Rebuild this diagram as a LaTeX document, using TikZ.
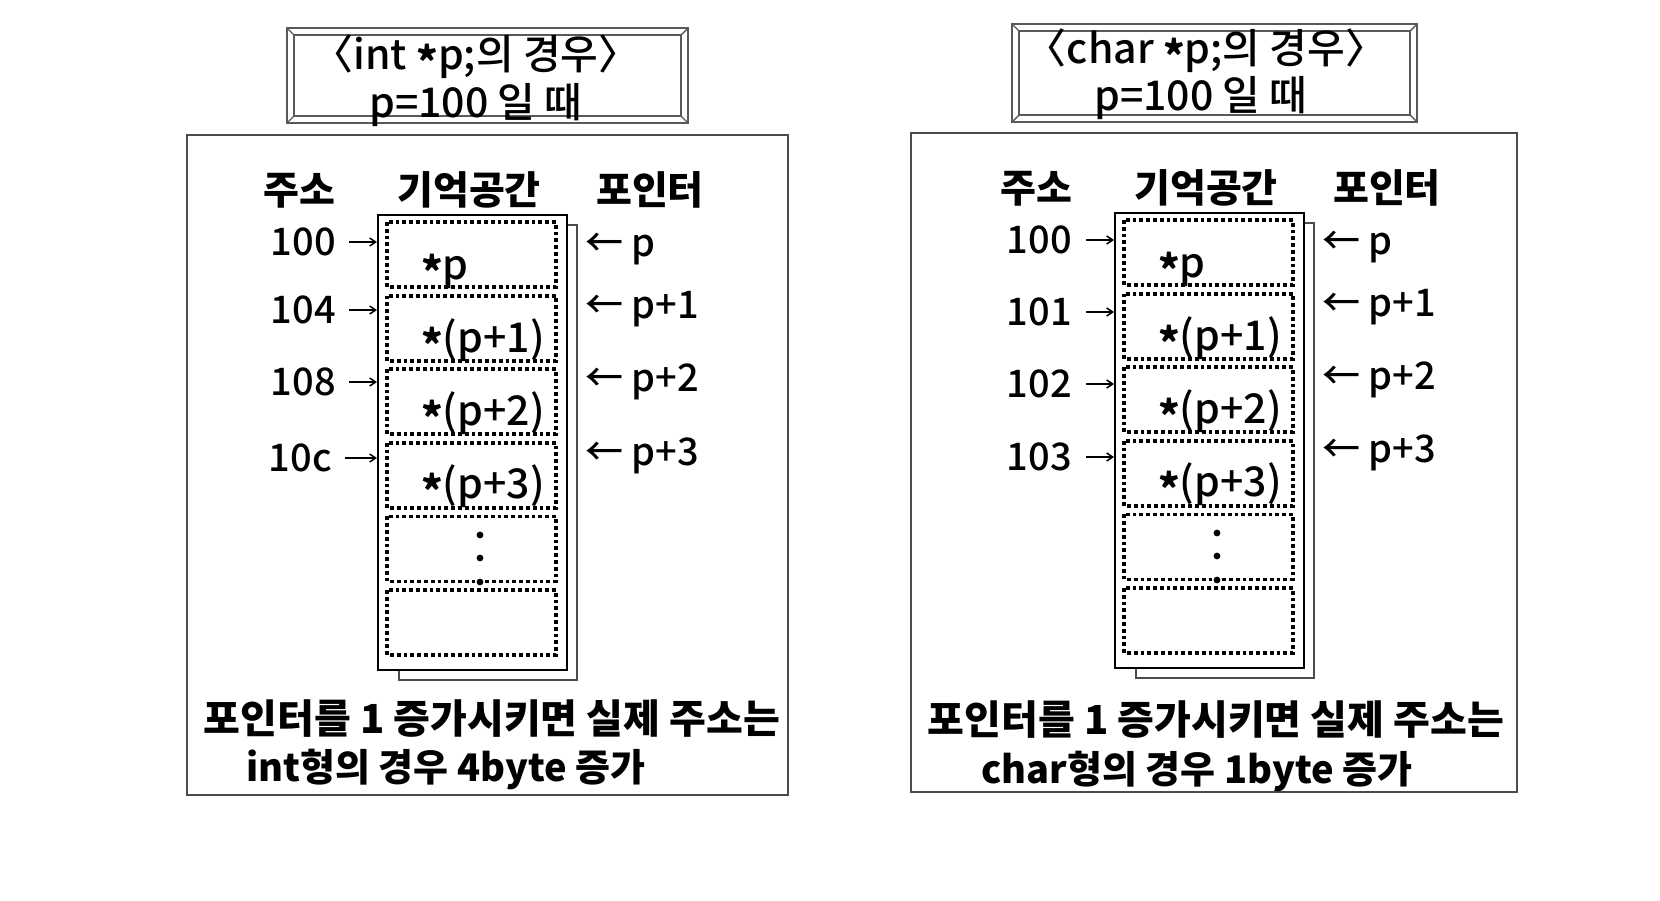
\documentclass[tikz,border=0pt]{standalone}
\usepackage{fontspec}
\setmainfont{Noto Sans CJK KR}
\newfontfamily\krmed{Noto Sans CJK KR Medium}
\usetikzlibrary{arrows.meta}
\newcommand\lowast{\raisebox{-0.2em}{\bfseries *}}
\tikzset{
  lab/.style={inner sep=0pt, text height=27.5pt, text depth=0pt, font=\krmed\fontsize{38}{42}\selectfont},
  head/.style={inner sep=0pt, text height=28pt, text depth=0pt, font=\fontsize{39}{44}\selectfont\bfseries},
  celltxt/.style={inner sep=0pt, text height=29.5pt, text depth=0pt, anchor=west, font=\krmed\fontsize{41}{46}\selectfont},
  titletxt/.style={inner sep=0pt, text height=29.5pt, text depth=0pt, font=\krmed\fontsize{41}{46}\selectfont},
  bottomtxt/.style={inner sep=0pt, text height=29pt, text depth=0pt, font=\fontsize{40}{44}\selectfont\bfseries},
  bottomtxtb/.style={inner sep=0pt, text height=27.5pt, text depth=0pt, anchor=west, font=\fontsize{38}{42}\selectfont\bfseries},
  panel/.style={draw=black!70, line width=1.3pt},
  frameline/.style={draw=black!65, line width=1.4pt},
  membox/.style={draw=black, line width=2.2pt, fill=white},
  shadowbox/.style={draw=black!70, line width=1.3pt},
  cell/.style={draw=black, line width=3.8pt, dash pattern=on 3.8pt off 3pt},
  addrarrow/.style={-{Straight Barb[length=6pt,width=8pt]}, line width=1.5pt},
  dotmark/.style={fill=black, draw=none}
}
\begin{document}
\begin{tikzpicture}[x=1pt,y=-1pt]
\useasboundingbox[fill=white] (0,0) rectangle (1660,900);

% ================= LEFT PANEL =================
\draw[panel] (187,135) rectangle (788,795);
\draw[frameline] (287,28) rectangle (688,123);
\draw[frameline] (294,35) rectangle (681,116);
\draw[frameline] (287,28) -- (294,35) (688,28) -- (681,35) (287,123) -- (294,116) (688,123) -- (681,116);
\node[titletxt] (Lt1) at (476,55) {〈int \lowast p;의 경우〉};
\node[titletxt] (Lt2) at (476,103) {p=100 일 때};
\node[head] (Lh1) at (299,190) {주소};
\node[head] (Lh2) at (469,190) {기억공간};
\node[head] (Lh3) at (650,190) {포인터};
\draw[shadowbox] (399,225) rectangle (577,680);
\node[membox, minimum width=189pt, minimum height=455pt, anchor=north west, inner sep=0] (Lmem) at (377,214) {};
\draw[cell] (387,222) rectangle (556,287);
\draw[cell] (387,295.6) rectangle (556,360.6);
\draw[cell] (387,369.2) rectangle (556,434.2);
\draw[cell] (387,442.8) rectangle (556,507.8);
\draw[cell] (387,516.4) rectangle (556,581.4);
\draw[cell] (387,590) rectangle (556,655);
\node[celltxt] (Lc1) at (421,265) {\lowast p};
\node[celltxt] (Lc2) at (421,338) {\lowast(p+1)};
\node[celltxt] (Lc3) at (421,411) {\lowast(p+2)};
\node[celltxt] (Lc4) at (421,484) {\lowast(p+3)};
\fill[dotmark] (480,535) circle (3.4pt) (480,558) circle (3.4pt) (480,582) circle (3.4pt);
\node[lab, anchor=east] (La1) at (336,242) {100};
\node[lab, anchor=east] (La2) at (336,310) {104};
\node[lab, anchor=east] (La3) at (336,382) {108};
\node[lab, anchor=east] (La4) at (332,458) {10c};
\draw[addrarrow] ([xshift=13pt]La1.east) -- (Lmem.west |- La1.east);
\draw[addrarrow] ([xshift=13pt]La2.east) -- (Lmem.west |- La2.east);
\draw[addrarrow] ([xshift=13pt]La3.east) -- (Lmem.west |- La3.east);
\draw[addrarrow] ([xshift=13pt]La4.east) -- (Lmem.west |- La4.east);
\node[lab, anchor=west] (Lp1) at (585,243) {← p};
\node[lab, anchor=west] (Lp2) at (585,305) {← p+1};
\node[lab, anchor=west] (Lp3) at (585,378) {← p+2};
\node[lab, anchor=west] (Lp4) at (585,452) {← p+3};
\node[bottomtxt] (Lb1) at (492,719) {포인터를 1 증가시키면 실제 주소는};
\node[bottomtxtb] (Lb2) at (246,768) {int형의 경우 4byte 증가};

% ================= RIGHT PANEL =================
\draw[panel] (911,133) rectangle (1517,792);
\draw[frameline] (1012,24) rectangle (1417,122);
\draw[frameline] (1019,31) rectangle (1410,115);
\draw[frameline] (1012,24) -- (1019,31) (1417,24) -- (1410,31) (1012,122) -- (1019,115) (1417,122) -- (1410,115);
\node[titletxt] (Rt1) at (1206,49) {〈char \lowast p;의 경우〉};
\node[titletxt] (Rt2) at (1201,96) {p=100 일 때};
\node[head] (Rh1) at (1036,188) {주소};
\node[head] (Rh2) at (1206,188) {기억공간};
\node[head] (Rh3) at (1387,188) {포인터};
\draw[shadowbox] (1136,223) rectangle (1314,678);
\node[membox, minimum width=189pt, minimum height=455pt, anchor=north west, inner sep=0] (Rmem) at (1114,212) {};
\draw[cell] (1124,220) rectangle (1293,285);
\draw[cell] (1124,293.6) rectangle (1293,358.6);
\draw[cell] (1124,367.2) rectangle (1293,432.2);
\draw[cell] (1124,440.8) rectangle (1293,505.8);
\draw[cell] (1124,514.4) rectangle (1293,579.4);
\draw[cell] (1124,588) rectangle (1293,653);
\node[celltxt] (Rc1) at (1158,263) {\lowast p};
\node[celltxt] (Rc2) at (1158,336) {\lowast(p+1)};
\node[celltxt] (Rc3) at (1158,409) {\lowast(p+2)};
\node[celltxt] (Rc4) at (1158,482) {\lowast(p+3)};
\fill[dotmark] (1217,533) circle (3.4pt) (1217,556) circle (3.4pt) (1217,580) circle (3.4pt);
\node[lab, anchor=east] (Ra1) at (1072,240) {100};
\node[lab, anchor=east] (Ra2) at (1072,312) {101};
\node[lab, anchor=east] (Ra3) at (1072,384) {102};
\node[lab, anchor=east] (Ra4) at (1072,457) {103};
\draw[addrarrow] ([xshift=14pt]Ra1.east) -- (Rmem.west |- Ra1.east);
\draw[addrarrow] ([xshift=14pt]Ra2.east) -- (Rmem.west |- Ra2.east);
\draw[addrarrow] ([xshift=14pt]Ra3.east) -- (Rmem.west |- Ra3.east);
\draw[addrarrow] ([xshift=14pt]Ra4.east) -- (Rmem.west |- Ra4.east);
\node[lab, anchor=west] (Rp1) at (1322,241) {← p};
\node[lab, anchor=west] (Rp2) at (1322,303) {← p+1};
\node[lab, anchor=west] (Rp3) at (1322,376) {← p+2};
\node[lab, anchor=west] (Rp4) at (1322,449) {← p+3};
\node[bottomtxt] (Rb1) at (1216,720) {포인터를 1 증가시키면 실제 주소는};
\node[bottomtxtb] (Rb2) at (981,770) {char형의 경우 1byte 증가};
\end{tikzpicture}
\end{document}
